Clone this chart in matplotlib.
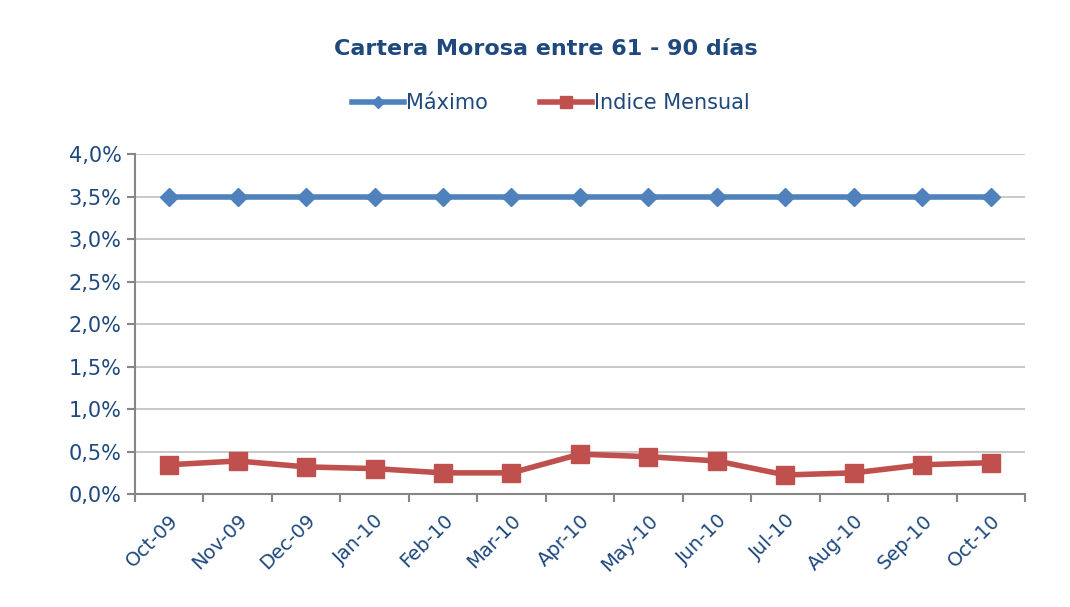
import numpy as np
import matplotlib.pyplot as plt
from matplotlib.ticker import FuncFormatter

months = ['Oct-09', 'Nov-09', 'Dec-09', 'Jan-10', 'Feb-10', 'Mar-10', 'Apr-10',
          'May-10', 'Jun-10', 'Jul-10', 'Aug-10', 'Sep-10', 'Oct-10']
maximo = [3.5] * 13
indice = [0.345, 0.39, 0.32, 0.30, 0.25, 0.25, 0.47, 0.44, 0.39, 0.225, 0.25, 0.345, 0.37]

txt = '#1F497D'
fig = plt.figure(figsize=(10.7, 6.07), dpi=100)
ax = fig.add_axes([0.126, 0.186, 0.832, 0.56])

x = np.arange(len(months))
ax.plot(x, maximo, color='#4F81BD', lw=4, marker='D', ms=9, label='Máximo')
ax.plot(x, indice, color='#C0504D', lw=4, marker='s', ms=13, label='Indice Mensual')

ax.set_xlim(-0.5, len(months) - 0.5)
ax.set_ylim(0, 4.0)
ax.set_yticks(np.arange(0, 4.01, 0.5))
ax.yaxis.set_major_formatter(FuncFormatter(lambda v, p: f'{v:.1f}%'.replace('.', ',')))
ax.grid(axis='y', color='#BFBFBF', lw=1.2)
ax.set_axisbelow(True)

ax.set_xticks(x)
ax.set_xticklabels(months, rotation=45, ha='right', rotation_mode='anchor')
ax.set_xticks(np.arange(-0.5, len(months)), minor=True)
ax.tick_params(axis='x', which='major', length=0, labelsize=14, labelcolor=txt, pad=12)
ax.tick_params(axis='x', which='minor', length=6, color='#868686', width=1.5)
ax.tick_params(axis='y', length=6, color='#868686', width=1.5, labelsize=15, labelcolor=txt)

for s in ['top', 'right']:
    ax.spines[s].set_visible(False)
for s in ['left', 'bottom']:
    ax.spines[s].set_color('#868686')
    ax.spines[s].set_linewidth(1.5)

fig.text(0.51, 0.92, 'Cartera Morosa entre 61 - 90 días', ha='center', va='center',
         fontsize=16, fontweight='bold', color=txt)
fig.legend(loc='center', bbox_to_anchor=(0.515, 0.83), ncol=2, frameon=False,
           fontsize=15, labelcolor=txt, handlelength=2.5, handletextpad=0.1,
           columnspacing=2.5, markerscale=0.7)

fig.savefig('out.png', dpi=100)
